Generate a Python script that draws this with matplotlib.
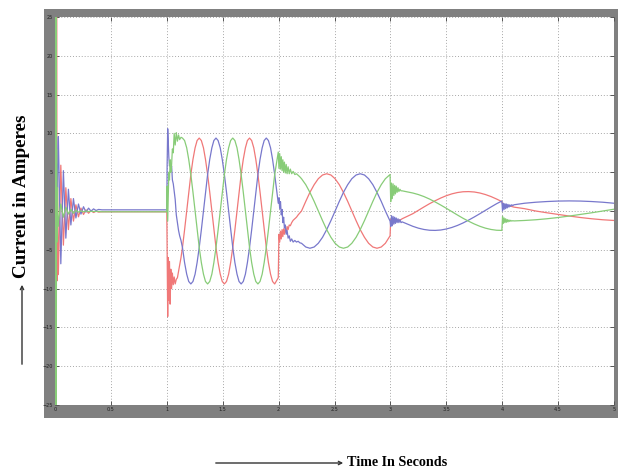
import matplotlib
matplotlib.use("Agg")
import matplotlib.pyplot as plt
from matplotlib.patches import Rectangle, FancyArrowPatch

# ---- data (time in s, current in A) ----
# start-up transient and settling
t_start = [0.000, 0.002, 0.005, 0.008, 0.011, 0.014, 0.018, 0.022, 0.026,
           0.030, 0.052, 0.075, 0.097, 0.120, 0.142, 0.165, 0.187, 0.210, 0.232,
           0.255, 0.277, 0.300, 0.322, 0.345, 0.367, 0.390,
           0.42, 0.6, 0.8, 0.997]
red_start = [0, 30, 18, -30, -28, 30, -9, 5, -3,
             -8.2, 5.9, -4.4, 3.0, -2.4, 1.6, -1.3, 0.8, -0.75, 0.38,
             -0.45, 0.15, -0.29, 0.04, -0.2, -0.03, -0.14,
             -0.1, -0.1, -0.1, -0.1]
blue_start = [0, -3, 6, -21, -10, 2, 6, 3, 8,
              9.6, -6.8, 5.2, -3.5, 2.8, -1.8, 1.6, -0.9, 0.9, -0.4,
              0.55, -0.15, 0.37, -0.01, 0.27, 0.07, 0.2,
              0.15, 0.15, 0.15, 0.15]
green_start = [0, 30, -30, 30, -30, 8, -4, 3, -2,
               -1.4, 0.9, -0.8, 0.5, -0.4, 0.2, -0.3, 0.1, -0.15, 0.0,
               -0.1, 0.0, -0.08, -0.03, -0.07, -0.04, -0.06,
               -0.1, -0.1, -0.1, -0.1]

# step at t = 1 s
t_step1 = [1.000, 1.003, 1.008, 1.013, 1.018, 1.024, 1.030, 1.036, 1.043,
           1.050, 1.058, 1.066, 1.075, 1.085, 1.095, 1.105, 1.115, 1.127,
           1.140, 1.159, 1.178, 1.196, 1.215, 1.234, 1.253, 1.271, 1.290,
           1.309, 1.328, 1.346, 1.365, 1.384, 1.403, 1.421, 1.440, 1.459,
           1.478, 1.496, 1.515, 1.534, 1.553, 1.571, 1.590, 1.609, 1.628,
           1.646, 1.665, 1.684, 1.703, 1.721, 1.740, 1.759, 1.778, 1.796,
           1.815, 1.834, 1.853, 1.871, 1.890, 1.909, 1.928, 1.946, 1.965,
           1.997]
red_step1 = [-0.1, -5, -13.6, -6, -11.5, -6.5, -12, -7.5, -10,
             -8, -9.5, -8.5, -9.4, -8.8, -8.6, -7.8, -7, -6,
             -4.7, -2.43, 0, 2.43, 4.7, 6.65, 8.14, 9.08, 9.4,
             9.08, 8.14, 6.65, 4.7, 2.43, 0, -2.43, -4.7, -6.65,
             -8.14, -9.08, -9.4, -9.08, -8.14, -6.65, -4.7, -2.43, 0,
             2.43, 4.7, 6.65, 8.14, 9.08, 9.4, 9.08, 8.14, 6.65,
             4.7, 2.43, 0, -2.43, -4.7, -6.65, -8.14, -9.08, -9.4,
             -8.6]
blue_step1 = [0.15, 6, 10.6, 9, 7, 5.8, 6.5, 5.5, 5.8,
              4, 3.5, 2.5, 1.5, -0.5, -1.5, -2.5, -3.2, -3.8,
              -4.7, -6.65, -8.14, -9.08, -9.4, -9.08, -8.14, -6.65, -4.7,
              -2.43, 0, 2.43, 4.7, 6.65, 8.14, 9.08, 9.4, 9.08,
              8.14, 6.65, 4.7, 2.43, 0, -2.43, -4.7, -6.65, -8.14,
              -9.08, -9.4, -9.08, -8.14, -6.65, -4.7, -2.43, 0, 2.43,
              4.7, 6.65, 8.14, 9.08, 9.4, 9.08, 8.14, 6.65, 4.7,
              1.0]
green_step1 = [-0.1, 3.2, -1.3, 2, 5, 4, 6.6, 5, 6,
               8, 7.5, 10, 8.5, 10.1, 9, 9.8, 9.2, 9.5,
               9.4, 9.08, 8.14, 6.65, 4.7, 2.43, 0, -2.43, -4.7,
               -6.65, -8.14, -9.08, -9.4, -9.08, -8.14, -6.65, -4.7, -2.43,
               0, 2.43, 4.7, 6.65, 8.14, 9.08, 9.4, 9.08, 8.14,
               6.65, 4.7, 2.43, 0, -2.43, -4.7, -6.65, -8.14, -9.08,
               -9.4, -9.08, -8.14, -6.65, -4.7, -2.43, 0, 2.43, 4.7,
               7.6]

# step at t = 2 s
t_step2 = [2.003, 2.010, 2.017, 2.024, 2.031, 2.038, 2.045, 2.052, 2.060, 2.068,
           2.076, 2.085, 2.095, 2.105, 2.117, 2.130, 2.145, 2.160, 2.175, 2.190,
           2.205, 2.243, 2.280, 2.318, 2.355, 2.393, 2.430, 2.468, 2.505, 2.543,
           2.580, 2.618, 2.655, 2.693, 2.730, 2.768, 2.805, 2.843, 2.880, 2.918,
           2.955, 2.997]
red_step2 = [-3.0, -4.0, -2.6, -3.6, -2.4, -3.3, -2.3, -3.0, -2.2, -2.8,
             -2.0, -2.4, -1.8, -1.9, -1.5, -1.2, -1.0, -0.8, -0.5, -0.25,
             0, 1.24, 2.4, 3.39, 4.16, 4.64, 4.8, 4.64, 4.16, 3.39,
             2.4, 1.24, 0, -1.24, -2.4, -3.39, -4.16, -4.64, -4.8, -4.64,
             -4.16, -3.2]
blue_step2 = [1.7, 0.3, 1.2, -0.5, 0.2, -1.5, -0.8, -2.2, -1.8, -3.0,
              -2.5, -3.5, -3.2, -3.9, -3.6, -4.0, -3.8, -4.0, -3.9, -4.1,
              -4.16, -4.64, -4.8, -4.64, -4.16, -3.39, -2.4, -1.24, 0, 1.24,
              2.4, 3.39, 4.16, 4.64, 4.8, 4.64, 4.16, 3.39, 2.4, 1.24,
              0, -1.3]
green_step2 = [5.5, 7.4, 5.4, 7.0, 5.2, 6.6, 5.0, 6.3, 4.9, 6.0,
               4.8, 5.7, 4.8, 5.4, 4.8, 5.1, 4.7, 4.8, 4.6, 4.4,
               4.16, 3.39, 2.4, 1.24, 0, -1.24, -2.4, -3.39, -4.16, -4.64,
               -4.8, -4.64, -4.16, -3.39, -2.4, -1.24, 0, 1.24, 2.4, 3.39,
               4.16, 4.7]

# step at t = 3 s
t_step3 = [3.003, 3.010, 3.017, 3.024, 3.031, 3.038, 3.045, 3.052, 3.060,
           3.068, 3.076, 3.085, 3.095, 3.105,
           3.20, 3.25, 3.30, 3.35, 3.40, 3.45, 3.50, 3.55, 3.60, 3.65,
           3.70, 3.75, 3.80, 3.85, 3.90, 3.95, 3.997]
red_step3 = [-1.1, -1.5, -1.1, -1.4, -1.1, -1.35, -1.15, -1.3, -1.15,
             -1.25, -1.15, -1.2, -1.1, -1.0,
             -0.35, 0.09, 0.52, 0.94, 1.32, 1.67, 1.97, 2.21, 2.38, 2.48,
             2.5, 2.45, 2.32, 2.12, 1.86, 1.54, 1.21]
blue_step3 = [-2.0, -0.6, -1.9, -0.7, -1.7, -0.8, -1.6, -0.9, -1.5,
              -1.0, -1.5, -1.1, -1.5, -1.4,
              -1.97, -2.21, -2.38, -2.48, -2.5, -2.45, -2.32, -2.12, -1.86, -1.54,
              -1.17, -0.77, -0.35, 0.09, 0.52, 0.94, 1.29]
green_step3 = [1.2, 3.6, 1.6, 3.5, 2.0, 3.3, 2.2, 3.2, 2.4,
               3.0, 2.5, 2.8, 2.6, 2.6,
               2.32, 2.12, 1.86, 1.54, 1.17, 0.77, 0.35, -0.09, -0.52, -0.94,
               -1.32, -1.67, -1.97, -2.21, -2.38, -2.48, -2.5]

# step at t = 4 s
t_step4 = [4.003, 4.010, 4.017, 4.024, 4.031, 4.038, 4.045, 4.052, 4.060,
           4.068, 4.076, 4.085, 4.095, 4.105,
           4.2, 4.3, 4.4, 4.5, 4.6, 4.7, 4.8, 4.9, 5.0]
red_step4 = [0.9, 0.7, 0.85, 0.65, 0.8, 0.6, 0.75, 0.6, 0.7,
             0.6, 0.62, 0.58, 0.55, 0.5,
             0.3, 0.0, -0.23, -0.44, -0.65, -0.84, -1.0, -1.13, -1.22]
blue_step4 = [0.0, 1.0, 0.2, 0.95, 0.3, 0.9, 0.4, 0.85, 0.5,
              0.8, 0.6, 0.8, 0.7, 0.8,
              1.0, 1.13, 1.22, 1.28, 1.3, 1.28, 1.22, 1.13, 1.0]
green_step4 = [-0.7, -1.6, -0.9, -1.5, -1.0, -1.45, -1.1, -1.4, -1.15,
               -1.35, -1.2, -1.3, -1.25, -1.28,
               -1.22, -1.13, -1.0, -0.84, -0.65, -0.44, -0.23, 0.0, 0.23]

x_ticks = [0, 0.5, 1, 1.5, 2, 2.5, 3, 3.5, 4, 4.5, 5]
x_tick_labels = ["0", "0.5", "1", "1.5", "2", "2.5", "3", "3.5", "4", "4.5", "5"]
y_ticks = [-25, -20, -15, -10, -5, 0, 5, 10, 15, 20, 25]

t = t_start + t_step1 + t_step2 + t_step3 + t_step4
phase_a = red_start + red_step1 + red_step2 + red_step3 + red_step4
phase_b = blue_start + blue_step1 + blue_step2 + blue_step3 + blue_step4
phase_c = green_start + green_step1 + green_step2 + green_step3 + green_step4

W, H = 618, 470
fig = plt.figure(figsize=(W / 100, H / 100), dpi=100)
fig.patch.set_facecolor("white")

# grey scope frame behind the plot area
fig.add_artist(Rectangle((44 / W, 52 / H), (W - 44) / W, 409 / H,
                         transform=fig.transFigure, facecolor="#808080",
                         edgecolor="none", zorder=0))

ax = fig.add_axes([55 / W, 65 / H, 559 / W, 388 / H])
ax.set_facecolor("white")
ax.plot(t, phase_a, color="#f07878", lw=0.9)
ax.plot(t, phase_b, color="#7878cc", lw=0.9)
ax.plot(t, phase_c, color="#88cc78", lw=0.9)

ax.set_xlim(0, 5)
ax.set_ylim(-25, 25)
ax.set_xticks(x_ticks)
ax.set_xticklabels(x_tick_labels)
ax.set_yticks(y_ticks)
ax.grid(True, linestyle=(0, (1, 2)), color="#a8a8a8", lw=0.7)
ax.tick_params(direction="in", length=3, width=0.7, color="#555555",
               top=True, right=True, labelsize=3.5, labelcolor="#202020", pad=1.5)
for spine in ax.spines.values():
    spine.set_visible(False)

# axis captions with arrows, as in the figure
serif = ["Liberation Serif", "DejaVu Serif"]
fig.text(22 / W, (H - 196) / H, "Current in Amperes", rotation=90,
         ha="center", va="center", fontsize=13.8, fontweight="bold",
         family=serif, color="black")
fig.add_artist(FancyArrowPatch(
    (22 / W, (H - 367) / H), (22 / W, (H - 282) / H),
    transform=fig.transFigure, arrowstyle="->", mutation_scale=6,
    color="#333333", lw=1.0))

fig.text(347 / W, (H - 462) / H, "Time In Seconds", ha="left", va="center",
         fontsize=10.2, fontweight="bold", family=serif, color="black")
fig.add_artist(FancyArrowPatch(
    (213 / W, (H - 463) / H), (346 / W, (H - 463) / H),
    transform=fig.transFigure, arrowstyle="->", mutation_scale=6,
    color="#333333", lw=1.0))

fig.savefig("out.png", dpi=100)
